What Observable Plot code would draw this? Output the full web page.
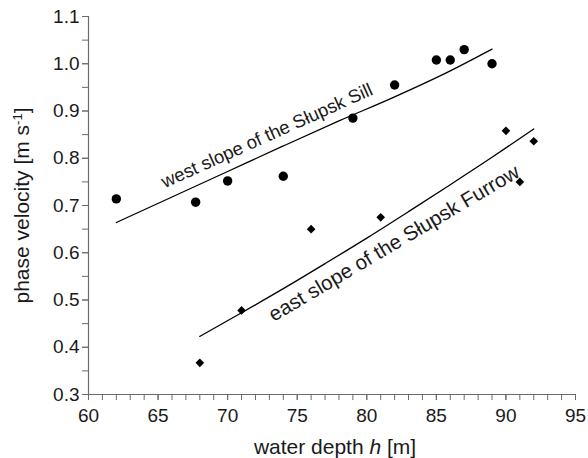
<!DOCTYPE html>
<html>
<head>
<meta charset="utf-8">
<script src="https://cdn.jsdelivr.net/npm/d3@7"></script>
<script src="https://cdn.jsdelivr.net/npm/@observablehq/plot@0.6"></script>
<style>
  html, body { margin: 0; padding: 0; background: #fff; }
  svg { font-family: "Liberation Sans", Arial, Helvetica, sans-serif; display: block; }
</style>
</head>
<body>
<div id="chart"></div>
<script>
// West slope of the Słupsk Sill (circles)
const westDepth    = [62, 67.7, 70, 74, 79, 82, 85, 86, 87, 89];
const westVelocity = [0.714, 0.707, 0.752, 0.762, 0.885, 0.955, 1.008, 1.008, 1.030, 1.000];
// East slope of the Słupsk Furrow (diamonds)
const eastDepth    = [68, 71, 76, 81, 90, 91, 92];
const eastVelocity = [0.367, 0.478, 0.650, 0.675, 0.858, 0.750, 0.836];
// Fitted curves
const westFitDepth    = [62, 66, 70, 74, 78, 82, 86, 89];
const westFitVelocity = [0.664, 0.718, 0.772, 0.826, 0.879, 0.930, 0.985, 1.031];
const eastFitDepth    = [68, 71, 74, 77, 80, 83, 86, 89, 92];
const eastFitVelocity = [0.423, 0.473, 0.524, 0.577, 0.631, 0.687, 0.744, 0.802, 0.862];
// Axis ticks
const xTicks = [60, 65, 70, 75, 80, 85, 90, 95];
const xMinorTicks = d3.range(60, 96, 1);
const yTicks = [0.3, 0.4, 0.5, 0.6, 0.7, 0.8, 0.9, 1.0, 1.1];
const yMinorTicks = d3.range(6, 23).map(d => d / 20);
// Labels
const annotationText  = ["west slope of the Słupsk Sill", "east slope of the Słupsk Furrow"];
const annotationDepth = [73.0, 82.2];
const annotationVel   = [0.836, 0.608];
const annotationAngle = [-24.2, -30.6];
const annotationSize  = [18.5, 20.5];
const xLabel = "water depth h [m]";
const yLabel = "phase velocity [m s-1]";

const west = westDepth.map((h, i) => ({h, c: westVelocity[i]}));
const east = eastDepth.map((h, i) => ({h, c: eastVelocity[i]}));
const westFit = westFitDepth.map((h, i) => ({h, c: westFitVelocity[i]}));
const eastFit = eastFitDepth.map((h, i) => ({h, c: eastFitVelocity[i]}));
const annotations = annotationText.map((text, i) => ({text, h: annotationDepth[i], c: annotationVel[i], angle: annotationAngle[i]}));

const axisGray = "#6b6b6b";
const textColor = "#1a1a1a";

const chart = Plot.plot({
  width: 588,
  height: 458,
  marginLeft: 88,
  marginRight: 13,
  marginTop: 16,
  marginBottom: 64,
  style: {background: "#fff", fontFamily: "'Liberation Sans', Arial, sans-serif"},
  x: {domain: [60, 95]},
  y: {domain: [0.3, 1.1]},
  marks: [
    Plot.axisX({ticks: xMinorTicks, tickSize: 6, stroke: axisGray, tickFormat: () => "", label: null}),
    Plot.axisX({ticks: xTicks, tickSize: 6, tickPadding: 8, stroke: axisGray, fill: textColor, fontSize: 19, tickFormat: d => String(d), label: null}),
    Plot.axisY({ticks: yMinorTicks, tickSize: 6, stroke: axisGray, tickFormat: () => "", label: null}),
    Plot.axisY({ticks: yTicks, tickSize: 6, tickPadding: 3, stroke: axisGray, fill: textColor, fontSize: 19, tickFormat: d3.format(".1f"), label: null}),
    Plot.ruleX([60], {stroke: axisGray, strokeWidth: 1.2}),
    Plot.ruleY([0.3], {stroke: axisGray, strokeWidth: 1.2}),
    Plot.line(westFit, {x: "h", y: "c", stroke: "#000", strokeWidth: 1.3, curve: "monotone-x"}),
    Plot.line(eastFit, {x: "h", y: "c", stroke: "#000", strokeWidth: 1.3, curve: "monotone-x"}),
    Plot.dot(west, {x: "h", y: "c", r: 4.7, fill: "#000", symbol: "circle"}),
    Plot.dot(east, {x: "h", y: "c", r: 3.9, fill: "#000", stroke: "none", symbol: "diamond2"}),
    Plot.text(annotations.slice(0, 1), {x: "h", y: "c", text: "text", rotate: "angle", fontSize: annotationSize[0], fill: textColor, textAnchor: "middle", lineAnchor: "bottom"}),
    Plot.text(annotations.slice(1), {x: "h", y: "c", text: "text", rotate: "angle", fontSize: annotationSize[1], fill: textColor, textAnchor: "middle", lineAnchor: "bottom"}),
    Plot.text([xLabel], {frameAnchor: "bottom", text: d => d, dx: 3, dy: 59, fontSize: 21, fill: textColor, textAnchor: "middle", lineAnchor: "bottom"}),
    Plot.text([yLabel], {frameAnchor: "left", text: d => d, dx: -60, rotate: -90, fontSize: 21, fill: textColor, textAnchor: "middle", lineAnchor: "bottom"})
  ]
});

// rich formatting of the axis titles (italic h, superscript -1)
d3.select(chart).selectAll("text").each(function() {
  const t = d3.select(this);
  if (this.textContent === xLabel) {
    t.text(null);
    t.append("tspan").text("water depth ");
    t.append("tspan").attr("font-style", "italic").text("h");
    t.append("tspan").text(" [m]");
  } else if (this.textContent === yLabel) {
    t.text(null);
    t.append("tspan").text("phase velocity [m s");
    t.append("tspan").attr("font-size", "13").attr("baseline-shift", "super").text("-1");
    t.append("tspan").text("]");
  }
});

document.getElementById("chart").appendChild(chart);
</script>
</body>
</html>
